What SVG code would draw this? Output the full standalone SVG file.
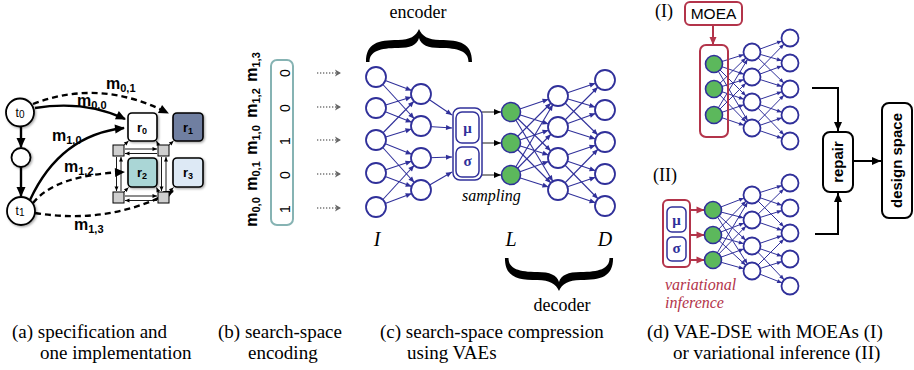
<svg xmlns="http://www.w3.org/2000/svg" width="914" height="370" viewBox="0 0 914 370">
  <defs>
    <style>
      .sans{font-family:"Liberation Sans",Arial,sans-serif}
      .serif{font-family:"Liberation Serif","Times New Roman",serif}
      .cap{font-family:"Liberation Serif","Times New Roman",serif;font-size:19px;fill:#000}
      .ml{font-family:"Liberation Sans",Arial,sans-serif;font-weight:bold;font-size:16px;fill:#000}
      .task{fill:#fff;stroke:#000;stroke-width:1.8}
      .res{stroke:#000;stroke-width:1.6}
      .sw{fill:#cfcfcf;stroke:#000;stroke-width:1}
      .solid{fill:none;stroke:#000;stroke-width:2.4}
      .dash{fill:none;stroke:#000;stroke-width:2.4;stroke-dasharray:6 4}
      .thin{fill:none;stroke:#000;stroke-width:0.9}
      .nc{fill:none;stroke:#30309a;stroke-width:1.1}
      .nd{fill:none;stroke:#30309a;stroke-width:1}
      .neuron{fill:#fff;stroke:#30309a;stroke-width:1.8}
      .latent{fill:#5cb85c;stroke:#30309a;stroke-width:1.6}
      .navybox{fill:#fff;stroke:#30309a;stroke-width:1.5}
      .redbox{fill:none;stroke:#b3344a;stroke-width:2}
      .greek{font-family:"Liberation Serif","Times New Roman",serif;font-weight:bold;font-size:15px;fill:#30309a}
      .blk{fill:none;stroke:#000;stroke-width:2}
      .dots{fill:none;stroke:#777;stroke-width:1.3;stroke-dasharray:1.3 1.7}
    </style>
    <filter id="shadow" x="-30%" y="-30%" width="160%" height="160%">
      <feDropShadow dx="1.2" dy="1.2" stdDeviation="1.2" flood-color="#000" flood-opacity="0.35"/>
    </filter>
    <!-- arrowheads -->
    <marker id="ba" markerUnits="userSpaceOnUse" markerWidth="10" markerHeight="9" refX="9" refY="4.5" orient="auto" overflow="visible">
      <path d="M0,0 L10,4.5 L0,9 z" fill="#000"/>
    </marker>
    <marker id="sa" markerUnits="userSpaceOnUse" markerWidth="5" markerHeight="4" refX="4.5" refY="2" orient="auto" overflow="visible">
      <path d="M0,0 L4.5,2 L0,4 z" fill="#000"/>
    </marker>
    <marker id="ka" markerUnits="userSpaceOnUse" markerWidth="7" markerHeight="6" refX="7" refY="3" orient="auto" overflow="visible">
      <path d="M0,0 L7,3 L0,6 z" fill="#000"/>
    </marker>
    <marker id="ga" markerUnits="userSpaceOnUse" markerWidth="7" markerHeight="7" refX="6" refY="3.5" orient="auto" overflow="visible">
      <path d="M0,0 L6,3.5 L0,7 L1.5,3.5 z" fill="#666"/>
    </marker>
    <marker id="an" markerUnits="userSpaceOnUse" markerWidth="6" markerHeight="5" refX="16" refY="2.5" orient="auto" overflow="visible">
      <path d="M0,0 L6,2.5 L0,5 z" fill="#30309a"/>
    </marker>
    <marker id="ae" markerUnits="userSpaceOnUse" markerWidth="6" markerHeight="5" refX="6" refY="2.5" orient="auto" overflow="visible">
      <path d="M0,0 L6,2.5 L0,5 z" fill="#30309a"/>
    </marker>
    <marker id="ad" markerUnits="userSpaceOnUse" markerWidth="5" markerHeight="4" refX="13.5" refY="2" orient="auto" overflow="visible">
      <path d="M0,0 L5,2 L0,4 z" fill="#30309a"/>
    </marker>
    <marker id="ra" markerUnits="userSpaceOnUse" markerWidth="8" markerHeight="7" refX="8" refY="3.5" orient="auto" overflow="visible">
      <path d="M0,0 L8,3.5 L0,7 z" fill="#b3344a"/>
    </marker>
    <marker id="bk" markerUnits="userSpaceOnUse" markerWidth="9" markerHeight="8" refX="9" refY="4" orient="auto" overflow="visible">
      <path d="M0,0 L9,4 L0,8 z" fill="#000"/>
    </marker>
    <!-- curly brace, cusp at origin, arms reaching down 33px -->
    <path id="brace" d="M-53,33 C-53,14 -41,11 -21,11 C-9,11 -3,7 0,0 C3,7 9,11 21,11 C41,11 53,14 53,33 L49.5,33 C49.5,22 39,19 21,19 C9,19 2,16 0,9 C-2,16 -9,19 -21,19 C-39,19 -49.5,22 -49.5,33 Z" fill="#000"/>
  </defs>

  <rect width="914" height="370" fill="#fff"/>

  <!-- ===== (a) specification and implementation ===== -->
  <g id="connectors-a">
    <line class="solid" x1="21" y1="127" x2="21" y2="147" marker-end="url(#ba)"/>
    <line class="solid" x1="21" y1="167" x2="21" y2="196" marker-end="url(#ba)"/>
    <path class="solid" d="M35,108 Q85,100 125,119" marker-end="url(#ba)"/>
    <path class="dash" d="M33,104 Q100,78 168,113" marker-end="url(#ba)"/>
    <path class="solid" d="M30,200 Q60,135 124,128" marker-end="url(#ba)"/>
    <path class="dash" d="M33,203 Q55,175 124,172" marker-end="url(#ba)"/>
    <path class="dash" d="M35,213 Q110,225 173,191" marker-end="url(#ba)"/>
    <!-- switch interconnect -->
    <line class="thin" x1="125" y1="149" x2="157" y2="149" marker-end="url(#sa)"/>
    <line class="thin" x1="157" y1="153.5" x2="125" y2="153.5" marker-end="url(#sa)"/>
    <line class="thin" x1="125" y1="196" x2="157" y2="196" marker-end="url(#sa)"/>
    <line class="thin" x1="157" y1="200.5" x2="125" y2="200.5" marker-end="url(#sa)"/>
    <line class="thin" x1="116.5" y1="157" x2="116.5" y2="191" marker-end="url(#sa)"/>
    <line class="thin" x1="121" y1="191" x2="121" y2="157" marker-end="url(#sa)"/>
    <line class="thin" x1="161.5" y1="157" x2="161.5" y2="191" marker-end="url(#sa)"/>
    <line class="thin" x1="166" y1="191" x2="166" y2="157" marker-end="url(#sa)"/>
    <line class="thin" x1="123" y1="146" x2="128.5" y2="141" marker-end="url(#sa)"/>
    <line class="thin" x1="159" y1="146" x2="156.5" y2="141" marker-end="url(#sa)"/>
    <line class="thin" x1="168" y1="146" x2="173.5" y2="141" marker-end="url(#sa)"/>
    <line class="thin" x1="123" y1="193" x2="128.5" y2="187.5" marker-end="url(#sa)"/>
    <line class="thin" x1="159" y1="193" x2="156.5" y2="187.5" marker-end="url(#sa)"/>
    <line class="thin" x1="168" y1="193" x2="173.5" y2="187.5" marker-end="url(#sa)"/>
  </g>
  <g id="t0"><circle class="task" cx="20" cy="112.5" r="14" filter="url(#shadow)"/>
    <text class="sans" x="20" y="117" font-size="12" text-anchor="middle">t<tspan font-size="10" dy="1">0</tspan></text></g>
  <g id="tmid"><circle class="task" cx="21" cy="157.5" r="9.5" filter="url(#shadow)"/></g>
  <g id="t1"><circle class="task" cx="21" cy="211" r="14" filter="url(#shadow)"/>
    <text class="sans" x="20" y="215" font-size="12" text-anchor="middle">t<tspan font-size="10" dy="1">1</tspan></text></g>
  <g id="r0"><rect class="res" x="128" y="113" width="29" height="28" rx="4" fill="#fff" filter="url(#shadow)"/>
    <text class="sans" x="142" y="132" font-size="13" font-weight="bold" text-anchor="middle">r<tspan font-size="9" dy="2">0</tspan></text></g>
  <g id="r1"><rect class="res" x="173" y="113" width="30" height="28" rx="4" fill="#6f7fa1" filter="url(#shadow)"/>
    <text class="sans" x="188" y="132" font-size="13" font-weight="bold" text-anchor="middle">r<tspan font-size="9" dy="2">1</tspan></text></g>
  <g id="r2"><rect class="res" x="128" y="158" width="29" height="29" rx="4" fill="#aad6d6" filter="url(#shadow)"/>
    <text class="sans" x="142" y="177" font-size="13" font-weight="bold" text-anchor="middle">r<tspan font-size="9" dy="2">2</tspan></text></g>
  <g id="r3"><rect class="res" x="173" y="158" width="30" height="29" rx="4" fill="#dde9f5" filter="url(#shadow)"/>
    <text class="sans" x="188" y="177" font-size="13" font-weight="bold" text-anchor="middle">r<tspan font-size="9" dy="2">3</tspan></text></g>
  <g id="switches">
    <rect class="sw" x="113" y="145" width="11" height="11"/>
    <rect class="sw" x="158" y="145" width="11" height="11"/>
    <rect class="sw" x="113" y="192" width="11" height="11"/>
    <rect class="sw" x="158" y="192" width="11" height="11"/>
  </g>
  <g id="mapping-labels">
    <text class="ml" x="106" y="89">m<tspan font-size="11" dy="3">0,1</tspan></text>
    <text class="ml" x="77" y="106">m<tspan font-size="11" dy="3">0,0</tspan></text>
    <text class="ml" x="52" y="141">m<tspan font-size="11" dy="3">1,0</tspan></text>
    <text class="ml" x="64" y="172">m<tspan font-size="11" dy="3">1,2</tspan></text>
    <text class="ml" x="74" y="230">m<tspan font-size="11" dy="3">1,3</tspan></text>
  </g>

  <!-- ===== (b) search-space encoding ===== -->
  <g id="encoding">
    <rect x="271" y="60" width="22" height="165" rx="6" fill="#fff" stroke="#86b3b3" stroke-width="2"/>
    <g class="sans" font-size="14" text-anchor="middle">
      <text transform="translate(290,73) rotate(-90)">0</text>
      <text transform="translate(290,108) rotate(-90)">0</text>
      <text transform="translate(290,141) rotate(-90)">1</text>
      <text transform="translate(290,175) rotate(-90)">0</text>
      <text transform="translate(290,209) rotate(-90)">1</text>
    </g>
    <g text-anchor="middle">
      <text class="ml" transform="translate(257,67) rotate(-90)">m<tspan font-size="11" dy="3">1,3</tspan></text>
      <text class="ml" transform="translate(257,103) rotate(-90)">m<tspan font-size="11" dy="3">1,2</tspan></text>
      <text class="ml" transform="translate(257,140) rotate(-90)">m<tspan font-size="11" dy="3">1,0</tspan></text>
      <text class="ml" transform="translate(257,176) rotate(-90)">m<tspan font-size="11" dy="3">0,1</tspan></text>
      <text class="ml" transform="translate(257,212) rotate(-90)">m<tspan font-size="11" dy="3">0,0</tspan></text>
    </g>
  </g>
  <g id="connectors-b">
    <line class="dots" x1="317" y1="73" x2="341" y2="73" marker-end="url(#ga)"/>
    <line class="dots" x1="317" y1="107" x2="341" y2="107" marker-end="url(#ga)"/>
    <line class="dots" x1="317" y1="140" x2="341" y2="140" marker-end="url(#ga)"/>
    <line class="dots" x1="317" y1="174" x2="341" y2="174" marker-end="url(#ga)"/>
    <line class="dots" x1="317" y1="208" x2="341" y2="208" marker-end="url(#ga)"/>
  </g>

  <!-- ===== (c) VAE ===== -->
  <g id="braces">
    <use href="#brace" transform="translate(419,29)"/>
    <use href="#brace" transform="translate(559,291) scale(1.02,-1)"/>
    <text class="serif" x="418" y="18" font-size="18" text-anchor="middle">encoder</text>
    <text class="serif" x="562" y="311" font-size="18" text-anchor="middle">decoder</text>
  </g>
  <g id="connectors-c">
    <!-- input layer to encoder hidden layer -->
    <line class="nc" x1="376" y1="77" x2="421" y2="94" marker-end="url(#an)"/>
    <line class="nc" x1="376" y1="77" x2="421" y2="126" marker-end="url(#an)"/>
    <line class="nc" x1="376" y1="108" x2="421" y2="94" marker-end="url(#an)"/>
    <line class="nc" x1="376" y1="108" x2="421" y2="126" marker-end="url(#an)"/>
    <line class="nc" x1="376" y1="140" x2="421" y2="94" marker-end="url(#an)"/>
    <line class="nc" x1="376" y1="140" x2="421" y2="126" marker-end="url(#an)"/>
    <line class="nc" x1="376" y1="140" x2="421" y2="158" marker-end="url(#an)"/>
    <line class="nc" x1="376" y1="140" x2="421" y2="190" marker-end="url(#an)"/>
    <line class="nc" x1="376" y1="173" x2="421" y2="158" marker-end="url(#an)"/>
    <line class="nc" x1="376" y1="173" x2="421" y2="190" marker-end="url(#an)"/>
    <line class="nc" x1="376" y1="207" x2="421" y2="158" marker-end="url(#an)"/>
    <line class="nc" x1="376" y1="207" x2="421" y2="190" marker-end="url(#an)"/>
    <!-- encoder hidden layer to mu/sigma -->
    <line class="nc" x1="421" y1="94" x2="452" y2="115" marker-end="url(#ae)"/>
    <line class="nc" x1="421" y1="126" x2="452" y2="128" marker-end="url(#ae)"/>
    <line class="nc" x1="421" y1="158" x2="452" y2="157" marker-end="url(#ae)"/>
    <line class="nc" x1="421" y1="190" x2="452" y2="172" marker-end="url(#ae)"/>
    <!-- sampling -->
    <line class="thin" stroke-width="1.2" x1="482" y1="112" x2="501" y2="112" marker-end="url(#ka)"/>
    <line class="thin" stroke-width="1.2" x1="482" y1="143" x2="501" y2="143" marker-end="url(#ka)"/>
    <line class="thin" stroke-width="1.2" x1="482" y1="175" x2="501" y2="175" marker-end="url(#ka)"/>
    <!-- latent to decoder hidden layer -->
    <line class="nc" x1="511" y1="112" x2="558" y2="96" marker-end="url(#an)"/>
    <line class="nc" x1="511" y1="112" x2="558" y2="127" marker-end="url(#an)"/>
    <line class="nc" x1="511" y1="112" x2="558" y2="158" marker-end="url(#an)"/>
    <line class="nc" x1="511" y1="112" x2="558" y2="190" marker-end="url(#an)"/>
    <line class="nc" x1="511" y1="143" x2="558" y2="96" marker-end="url(#an)"/>
    <line class="nc" x1="511" y1="143" x2="558" y2="127" marker-end="url(#an)"/>
    <line class="nc" x1="511" y1="143" x2="558" y2="158" marker-end="url(#an)"/>
    <line class="nc" x1="511" y1="143" x2="558" y2="190" marker-end="url(#an)"/>
    <line class="nc" x1="511" y1="175" x2="558" y2="96" marker-end="url(#an)"/>
    <line class="nc" x1="511" y1="175" x2="558" y2="127" marker-end="url(#an)"/>
    <line class="nc" x1="511" y1="175" x2="558" y2="158" marker-end="url(#an)"/>
    <line class="nc" x1="511" y1="175" x2="558" y2="190" marker-end="url(#an)"/>
    <!-- decoder hidden layer to output -->
    <line class="nc" x1="558" y1="96" x2="605" y2="80" marker-end="url(#an)"/>
    <line class="nc" x1="558" y1="96" x2="605" y2="110" marker-end="url(#an)"/>
    <line class="nc" x1="558" y1="96" x2="605" y2="142" marker-end="url(#an)"/>
    <line class="nc" x1="558" y1="127" x2="605" y2="80" marker-end="url(#an)"/>
    <line class="nc" x1="558" y1="127" x2="605" y2="110" marker-end="url(#an)"/>
    <line class="nc" x1="558" y1="127" x2="605" y2="142" marker-end="url(#an)"/>
    <line class="nc" x1="558" y1="158" x2="605" y2="142" marker-end="url(#an)"/>
    <line class="nc" x1="558" y1="158" x2="605" y2="174" marker-end="url(#an)"/>
    <line class="nc" x1="558" y1="158" x2="605" y2="206" marker-end="url(#an)"/>
    <line class="nc" x1="558" y1="190" x2="605" y2="142" marker-end="url(#an)"/>
    <line class="nc" x1="558" y1="190" x2="605" y2="174" marker-end="url(#an)"/>
    <line class="nc" x1="558" y1="190" x2="605" y2="206" marker-end="url(#an)"/>
  </g>
  <g id="layer-I">
    <circle class="neuron" cx="376" cy="77" r="10"/>
    <circle class="neuron" cx="376" cy="108" r="10"/>
    <circle class="neuron" cx="376" cy="140" r="10"/>
    <circle class="neuron" cx="376" cy="173" r="10"/>
    <circle class="neuron" cx="376" cy="207" r="10"/>
  </g>
  <g id="layer-enc">
    <circle class="neuron" cx="421" cy="94" r="10"/>
    <circle class="neuron" cx="421" cy="126" r="10"/>
    <circle class="neuron" cx="421" cy="158" r="10"/>
    <circle class="neuron" cx="421" cy="190" r="10"/>
  </g>
  <g id="mu-sigma">
    <rect class="navybox" x="453" y="108" width="29" height="72" rx="7"/>
    <rect class="navybox" x="456" y="112" width="23" height="31" rx="6"/>
    <rect class="navybox" x="456" y="147" width="23" height="30" rx="6"/>
    <text class="greek" x="467.5" y="133" text-anchor="middle">μ</text>
    <text class="greek" x="467.5" y="166" text-anchor="middle">σ</text>
  </g>
  <g id="layer-L">
    <circle class="latent" cx="511" cy="112" r="9.5"/>
    <circle class="latent" cx="511" cy="143" r="9.5"/>
    <circle class="latent" cx="511" cy="175" r="9.5"/>
  </g>
  <g id="layer-dec">
    <circle class="neuron" cx="558" cy="96" r="10"/>
    <circle class="neuron" cx="558" cy="127" r="10"/>
    <circle class="neuron" cx="558" cy="158" r="10"/>
    <circle class="neuron" cx="558" cy="190" r="10"/>
  </g>
  <g id="layer-D">
    <circle class="neuron" cx="605" cy="80" r="10"/>
    <circle class="neuron" cx="605" cy="110" r="10"/>
    <circle class="neuron" cx="605" cy="142" r="10"/>
    <circle class="neuron" cx="605" cy="174" r="10"/>
    <circle class="neuron" cx="605" cy="206" r="10"/>
  </g>
  <g id="vae-labels" class="serif" font-style="italic">
    <text x="462" y="201" font-size="16">sampling</text>
    <text x="377" y="246" font-size="20" text-anchor="middle">I</text>
    <text x="511" y="246" font-size="20" text-anchor="middle">L</text>
    <text x="605" y="246" font-size="20" text-anchor="middle">D</text>
  </g>

  <!-- ===== (d) VAE-DSE ===== -->
  <text class="serif" x="655" y="17" font-size="18">(I)</text>
  <text class="serif" x="653" y="181" font-size="18">(II)</text>
  <g id="moea">
    <rect x="685" y="2" width="57" height="23" rx="5" fill="#fff" stroke="#b3344a" stroke-width="2"/>
    <text class="sans" x="713.5" y="19" font-size="15.5" text-anchor="middle">MOEA</text>
  </g>
  <g id="inference">
    <rect class="redbox" x="663" y="200" width="27" height="67" rx="5"/>
    <rect class="navybox" x="667" y="207" width="19" height="25" rx="5"/>
    <rect class="navybox" x="667" y="237" width="19" height="24" rx="5"/>
    <text class="greek" x="676.5" y="225" font-size="12" text-anchor="middle">μ</text>
    <text class="greek" x="676.5" y="253" font-size="12" text-anchor="middle">σ</text>
    <text class="serif" x="665" y="290" font-size="16" font-style="italic" fill="#b3344a">variational</text>
    <text class="serif" x="665" y="308" font-size="16" font-style="italic" fill="#b3344a">inference</text>
  </g>
  <g id="connectors-d">
    <line x1="713" y1="25" x2="713" y2="45" stroke="#b3344a" stroke-width="2" marker-end="url(#ra)"/>
    <line x1="690" y1="210" x2="704.5" y2="210" stroke="#b3344a" stroke-width="2" marker-end="url(#ra)"/>
    <line x1="690" y1="235" x2="704.5" y2="235" stroke="#b3344a" stroke-width="2" marker-end="url(#ra)"/>
    <line x1="690" y1="260" x2="704.5" y2="260" stroke="#b3344a" stroke-width="2" marker-end="url(#ra)"/>
    <!-- network I -->
    <line class="nd" x1="714" y1="64" x2="752" y2="52" marker-end="url(#ad)"/>
    <line class="nd" x1="714" y1="64" x2="752" y2="77" marker-end="url(#ad)"/>
    <line class="nd" x1="714" y1="64" x2="752" y2="102" marker-end="url(#ad)"/>
    <line class="nd" x1="714" y1="64" x2="752" y2="128" marker-end="url(#ad)"/>
    <line class="nd" x1="714" y1="89" x2="752" y2="52" marker-end="url(#ad)"/>
    <line class="nd" x1="714" y1="89" x2="752" y2="77" marker-end="url(#ad)"/>
    <line class="nd" x1="714" y1="89" x2="752" y2="102" marker-end="url(#ad)"/>
    <line class="nd" x1="714" y1="89" x2="752" y2="128" marker-end="url(#ad)"/>
    <line class="nd" x1="714" y1="115" x2="752" y2="52" marker-end="url(#ad)"/>
    <line class="nd" x1="714" y1="115" x2="752" y2="77" marker-end="url(#ad)"/>
    <line class="nd" x1="714" y1="115" x2="752" y2="102" marker-end="url(#ad)"/>
    <line class="nd" x1="714" y1="115" x2="752" y2="128" marker-end="url(#ad)"/>
    <line class="nd" x1="752" y1="52" x2="790" y2="38" marker-end="url(#ad)"/>
    <line class="nd" x1="752" y1="52" x2="790" y2="63" marker-end="url(#ad)"/>
    <line class="nd" x1="752" y1="52" x2="790" y2="89" marker-end="url(#ad)"/>
    <line class="nd" x1="752" y1="77" x2="790" y2="38" marker-end="url(#ad)"/>
    <line class="nd" x1="752" y1="77" x2="790" y2="63" marker-end="url(#ad)"/>
    <line class="nd" x1="752" y1="77" x2="790" y2="89" marker-end="url(#ad)"/>
    <line class="nd" x1="752" y1="102" x2="790" y2="89" marker-end="url(#ad)"/>
    <line class="nd" x1="752" y1="102" x2="790" y2="115" marker-end="url(#ad)"/>
    <line class="nd" x1="752" y1="102" x2="790" y2="141" marker-end="url(#ad)"/>
    <line class="nd" x1="752" y1="128" x2="790" y2="89" marker-end="url(#ad)"/>
    <line class="nd" x1="752" y1="128" x2="790" y2="115" marker-end="url(#ad)"/>
    <line class="nd" x1="752" y1="128" x2="790" y2="141" marker-end="url(#ad)"/>
    <!-- network II -->
    <line class="nd" x1="713" y1="210" x2="752" y2="195" marker-end="url(#ad)"/>
    <line class="nd" x1="713" y1="210" x2="752" y2="220" marker-end="url(#ad)"/>
    <line class="nd" x1="713" y1="210" x2="752" y2="246" marker-end="url(#ad)"/>
    <line class="nd" x1="713" y1="210" x2="752" y2="271" marker-end="url(#ad)"/>
    <line class="nd" x1="713" y1="235" x2="752" y2="195" marker-end="url(#ad)"/>
    <line class="nd" x1="713" y1="235" x2="752" y2="220" marker-end="url(#ad)"/>
    <line class="nd" x1="713" y1="235" x2="752" y2="246" marker-end="url(#ad)"/>
    <line class="nd" x1="713" y1="235" x2="752" y2="271" marker-end="url(#ad)"/>
    <line class="nd" x1="713" y1="260" x2="752" y2="195" marker-end="url(#ad)"/>
    <line class="nd" x1="713" y1="260" x2="752" y2="220" marker-end="url(#ad)"/>
    <line class="nd" x1="713" y1="260" x2="752" y2="246" marker-end="url(#ad)"/>
    <line class="nd" x1="713" y1="260" x2="752" y2="271" marker-end="url(#ad)"/>
    <line class="nd" x1="752" y1="195" x2="790" y2="183" marker-end="url(#ad)"/>
    <line class="nd" x1="752" y1="195" x2="790" y2="208" marker-end="url(#ad)"/>
    <line class="nd" x1="752" y1="195" x2="790" y2="233" marker-end="url(#ad)"/>
    <line class="nd" x1="752" y1="220" x2="790" y2="183" marker-end="url(#ad)"/>
    <line class="nd" x1="752" y1="220" x2="790" y2="208" marker-end="url(#ad)"/>
    <line class="nd" x1="752" y1="220" x2="790" y2="233" marker-end="url(#ad)"/>
    <line class="nd" x1="752" y1="246" x2="790" y2="233" marker-end="url(#ad)"/>
    <line class="nd" x1="752" y1="246" x2="790" y2="259" marker-end="url(#ad)"/>
    <line class="nd" x1="752" y1="246" x2="790" y2="286" marker-end="url(#ad)"/>
    <line class="nd" x1="752" y1="271" x2="790" y2="233" marker-end="url(#ad)"/>
    <line class="nd" x1="752" y1="271" x2="790" y2="259" marker-end="url(#ad)"/>
    <line class="nd" x1="752" y1="271" x2="790" y2="286" marker-end="url(#ad)"/>
    <!-- to repair and design space -->
    <path class="blk" d="M812,88 H838 V131" marker-end="url(#bk)"/>
    <path class="blk" d="M815,234 H838 V193" marker-end="url(#bk)"/>
    <path class="blk" d="M853,161 H881" marker-end="url(#bk)"/>
  </g>
  <g id="moea-latent">
    <rect class="redbox" x="700" y="45" width="28" height="92" rx="6"/>
    <circle class="latent" cx="714" cy="64" r="8.5"/>
    <circle class="latent" cx="714" cy="89" r="8.5"/>
    <circle class="latent" cx="714" cy="115" r="8.5"/>
  </g>
  <g id="moea-hidden">
    <circle class="neuron" cx="752" cy="52" r="8.5"/>
    <circle class="neuron" cx="752" cy="77" r="8.5"/>
    <circle class="neuron" cx="752" cy="102" r="8.5"/>
    <circle class="neuron" cx="752" cy="128" r="8.5"/>
  </g>
  <g id="moea-output">
    <circle class="neuron" cx="790" cy="38" r="8.5"/>
    <circle class="neuron" cx="790" cy="63" r="8.5"/>
    <circle class="neuron" cx="790" cy="89" r="8.5"/>
    <circle class="neuron" cx="790" cy="115" r="8.5"/>
    <circle class="neuron" cx="790" cy="141" r="8.5"/>
  </g>
  <g id="vi-latent">
    <circle class="latent" cx="713" cy="210" r="8.5"/>
    <circle class="latent" cx="713" cy="235" r="8.5"/>
    <circle class="latent" cx="713" cy="260" r="8.5"/>
  </g>
  <g id="vi-hidden">
    <circle class="neuron" cx="752" cy="195" r="8.5"/>
    <circle class="neuron" cx="752" cy="220" r="8.5"/>
    <circle class="neuron" cx="752" cy="246" r="8.5"/>
    <circle class="neuron" cx="752" cy="271" r="8.5"/>
  </g>
  <g id="vi-output">
    <circle class="neuron" cx="790" cy="183" r="8.5"/>
    <circle class="neuron" cx="790" cy="208" r="8.5"/>
    <circle class="neuron" cx="790" cy="233" r="8.5"/>
    <circle class="neuron" cx="790" cy="259" r="8.5"/>
    <circle class="neuron" cx="790" cy="286" r="8.5"/>
  </g>
  <g id="repair">
    <rect x="823" y="132" width="30" height="60" rx="7" fill="#fff" stroke="#000" stroke-width="2"/>
    <text class="sans" transform="translate(843,162) rotate(-90)" font-size="15" font-weight="bold" text-anchor="middle">repair</text>
  </g>
  <g id="design-space">
    <rect x="882" y="103" width="30" height="115" rx="7" fill="#fff" stroke="#000" stroke-width="2"/>
    <text class="sans" transform="translate(902,160.5) rotate(-90)" font-size="15" font-weight="bold" text-anchor="middle">design space</text>
  </g>

  <!-- ===== captions ===== -->
  <g id="captions">
    <text class="cap" x="12" y="338">(a) specification and</text>
    <text class="cap" x="40" y="359">one implementation</text>
    <text class="cap" x="218" y="338">(b) search-space</text>
    <text class="cap" x="248" y="359">encoding</text>
    <text class="cap" x="380" y="338">(c) search-space compression</text>
    <text class="cap" x="407" y="359">using VAEs</text>
    <text class="cap" x="647" y="338">(d) VAE-DSE with MOEAs (I)</text>
    <text class="cap" x="673" y="359">or variational inference (II)</text>
  </g>
</svg>
